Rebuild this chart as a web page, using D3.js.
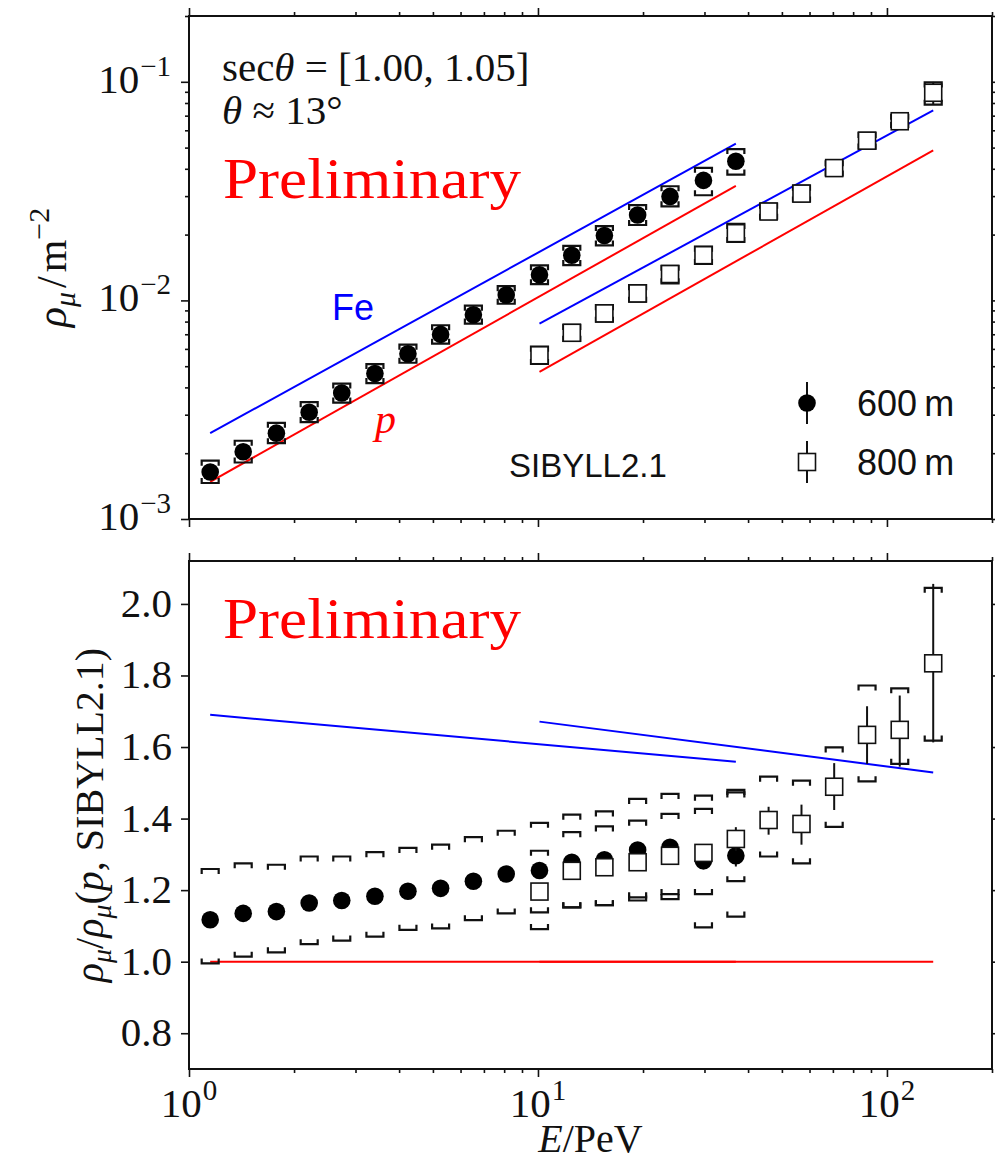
<!DOCTYPE html>
<html>
<head>
<meta charset="utf-8">
<script src="https://cdn.jsdelivr.net/npm/d3@7"></script>
<style>
  body { margin: 0; background: #fff; }
  svg { display: block; }
</style>
</head>
<body>
<div id="chart"></div>
<script>
// ---- data ----
// 600 m series
var E600 = [1.15, 1.43, 1.78, 2.21, 2.74, 3.41, 4.24, 5.26, 6.53, 8.11, 10.1, 12.5, 15.5, 19.3, 23.9, 29.8, 36.9];
var rho600 = [1.64e-3, 2.03e-3, 2.47e-3, 3.08e-3, 3.77e-3, 4.63e-3, 5.70e-3, 6.99e-3, 8.60e-3, 1.059e-2, 1.309e-2, 1.61e-2, 1.98e-2, 2.46e-2, 2.99e-2, 3.54e-2, 4.33e-2];
var ratio600 = [1.117, 1.135, 1.140, 1.164, 1.171, 1.183, 1.197, 1.205, 1.225, 1.245, 1.255, 1.278, 1.285, 1.312, 1.320, 1.282, 1.296];
var statErr600 = [0.005, 0.005, 0.006, 0.006, 0.007, 0.008, 0.009, 0.010, 0.011, 0.012, 0.013, 0.015, 0.017, 0.019, 0.021, 0.024, 0.030];
var sysHi600 = [1.259, 1.275, 1.271, 1.294, 1.294, 1.306, 1.318, 1.327, 1.348, 1.366, 1.388, 1.411, 1.420, 1.455, 1.469, 1.464, 1.473];
var sysLo600 = [0.995, 1.014, 1.026, 1.049, 1.059, 1.070, 1.089, 1.093, 1.116, 1.135, 1.138, 1.152, 1.158, 1.180, 1.189, 1.096, 1.126];

// 800 m series
var E800 = [10.1, 12.5, 15.5, 19.3, 23.9, 29.8, 36.9, 45.8, 56.9, 70.6, 87.7, 108.8, 135.7];
var rho800 = [5.61e-3, 7.11e-3, 8.72e-3, 1.076e-2, 1.32e-2, 1.61e-2, 2.03e-2, 2.55e-2, 3.08e-2, 4.03e-2, 5.38e-2, 6.60e-2, 8.91e-2];
var ratio800 = [1.196, 1.254, 1.264, 1.278, 1.296, 1.304, 1.343, 1.396, 1.385, 1.489, 1.634, 1.648, 1.834];
var statHi800 = [1.215, 1.274, 1.285, 1.300, 1.318, 1.327, 1.376, 1.433, 1.439, 1.555, 1.714, 1.744, 2.056];
var statLo800 = [1.177, 1.234, 1.243, 1.256, 1.274, 1.281, 1.310, 1.355, 1.327, 1.424, 1.553, 1.545, 1.613];
var sysHi800 = [1.310, 1.362, 1.378, 1.394, 1.413, 1.427, 1.480, 1.517, 1.506, 1.599, 1.772, 1.764, 2.045];
var sysLo800 = [1.091, 1.152, 1.158, 1.171, 1.175, 1.189, 1.225, 1.294, 1.275, 1.377, 1.504, 1.553, 1.618];

// SIBYLL2.1 expectations (end points of the straight lines)
var lineE600 = [1.15, 36.9];
var lineE800 = [10.1, 135.7];
var fe600 = [2.47e-3, 5.21e-2];
var p600 = [1.48e-3, 3.34e-2];
var fe800 = [7.83e-3, 7.41e-2];
var p800 = [4.71e-3, 4.86e-2];
var feRatio600 = [1.690, 1.559];
var feRatio800 = [1.671, 1.529];
var pRatio600 = [1.0, 1.0];
var pRatio800 = [1.0, 1.0];

// ticks
var xMajor = [1, 10, 100];
var yTopMajor = [1e-3, 1e-2, 1e-1];
var yBotTicks = [0.8, 1.0, 1.2, 1.4, 1.6, 1.8, 2.0];

// ---- layout ----
var W = 995, H = 1162;
var left = 189, right = 992;
var pTop = {top: 16, bottom: 519};
var pBot = {top: 561, bottom: 1069};
var serif = "'Liberation Serif', 'DejaVu Serif', serif";
var sans = "'Liberation Sans', Arial, sans-serif";
var BLUE = "#0000ff", RED = "#ff0000";

var svg = d3.select("#chart").append("svg")
    .attr("width", W).attr("height", H);

var x = d3.scaleLog().domain([1, 200]).range([left, right]);
var yTop = d3.scaleLog().domain([1e-3, 0.2]).range([pTop.bottom, pTop.top]);
var yBot = d3.scaleLinear().domain([0.7, 2.12]).range([pBot.bottom, pBot.top]);

var xMinor = x.ticks().filter(function(v) { return xMajor.indexOf(v) < 0; });
var yTopMinor = yTop.ticks().filter(function(v) { return yTopMajor.indexOf(v) < 0; });

// tick helper
function ticks(axisFn, scale, values, size, transform) {
    svg.append("g")
        .attr("transform", transform)
        .call(axisFn(scale).tickValues(values).tickSize(size).tickSizeOuter(0).tickFormat(""))
        .call(function(g) {
            g.select(".domain").remove();
            g.selectAll("line").attr("stroke", "#111").attr("stroke-width", 1.6);
        });
}

// x ticks, top and bottom of both panels
[pTop, pBot].forEach(function(p) {
    ticks(d3.axisBottom, x, xMajor, 8, "translate(0," + p.bottom + ")");
    ticks(d3.axisBottom, x, xMinor, 4, "translate(0," + p.bottom + ")");
    ticks(d3.axisTop, x, xMajor, 8, "translate(0," + p.top + ")");
    ticks(d3.axisTop, x, xMinor, 4, "translate(0," + p.top + ")");
});
// y ticks
ticks(d3.axisLeft, yTop, yTopMajor, 8, "translate(" + left + ",0)");
ticks(d3.axisLeft, yTop, yTopMinor, 4, "translate(" + left + ",0)");
ticks(d3.axisRight, yTop, yTopMajor, 8, "translate(" + right + ",0)");
ticks(d3.axisRight, yTop, yTopMinor, 4, "translate(" + right + ",0)");
ticks(d3.axisLeft, yBot, yBotTicks, 8, "translate(" + left + ",0)");
ticks(d3.axisRight, yBot, yBotTicks, 8, "translate(" + right + ",0)");

// frames
[pTop, pBot].forEach(function(p) {
    svg.append("rect")
        .attr("x", left).attr("y", p.top)
        .attr("width", right - left).attr("height", p.bottom - p.top)
        .attr("fill", "none").attr("stroke", "#111").attr("stroke-width", 2);
});

// tick labels
function powerLabel(xp, yp, v, anchor) {
    var t = svg.append("text")
        .attr("x", xp).attr("y", yp)
        .attr("text-anchor", anchor)
        .style("font-family", serif).style("font-size", "41px").attr("fill", "#111");
    t.append("tspan").text("10");
    var e = Math.round(Math.log10(v));
    t.append("tspan").attr("dy", -17).attr("dx", 1).style("font-size", "29px")
        .text(e < 0 ? "\u2212" + (-e) : String(e));
}
xMajor.forEach(function(v) { powerLabel(x(v), pBot.bottom + 48, v, "middle"); });
yTopMajor.forEach(function(v) { powerLabel(171, yTop(v) + 11, v, "end"); });
yBotTicks.forEach(function(v) {
    svg.append("text")
        .attr("x", 172).attr("y", yBot(v) + 13)
        .attr("text-anchor", "end")
        .style("font-family", serif).style("font-size", "41px").attr("fill", "#111")
        .text(d3.format(".1f")(v));
});

// axis titles
var xl = svg.append("text")
    .attr("x", (left + right) / 2).attr("y", 1152)
    .attr("text-anchor", "middle")
    .style("font-family", serif).style("font-size", "40px").attr("fill", "#111");
xl.append("tspan").style("font-style", "italic").text("E");
xl.append("tspan").text("/PeV");

var yl1 = svg.append("text")
    .attr("transform", "translate(66," + ((pTop.top + pTop.bottom) / 2) + ") rotate(-90)")
    .attr("text-anchor", "middle")
    .style("font-family", serif).style("font-size", "42px").attr("fill", "#111");
yl1.append("tspan").style("font-style", "italic").text("\u03c1");
yl1.append("tspan").style("font-style", "italic").style("font-size", "30px").attr("dy", 9).text("\u03bc");
yl1.append("tspan").attr("dy", -9).attr("dx", 4).text("/");
yl1.append("tspan").attr("dx", 4).text("m");
yl1.append("tspan").style("font-size", "30px").attr("dy", -17).text("\u22122");

var yl2 = svg.append("text")
    .attr("transform", "translate(103," + ((pBot.top + pBot.bottom) / 2) + ") rotate(-90)")
    .attr("text-anchor", "middle")
    .style("font-family", serif).style("font-size", "40px").attr("fill", "#111");
yl2.append("tspan").style("font-style", "italic").text("\u03c1");
yl2.append("tspan").style("font-style", "italic").style("font-size", "28px").attr("dy", 8).text("\u03bc");
yl2.append("tspan").attr("dy", -8).text("/");
yl2.append("tspan").style("font-style", "italic").text("\u03c1");
yl2.append("tspan").style("font-style", "italic").style("font-size", "28px").attr("dy", 8).text("\u03bc");
yl2.append("tspan").attr("dy", -8).text("(");
yl2.append("tspan").style("font-style", "italic").text("p");
yl2.append("tspan").text(", SIBYLL2.1)");

// ---- model lines ----
var line = function(ys) {
    return d3.line().x(function(d) { return x(d[0]); }).y(function(d) { return ys(d[1]); });
};
function drawLine(es, vs, ys, color) {
    svg.append("path")
        .datum(d3.zip(es, vs))
        .attr("fill", "none").attr("stroke", color).attr("stroke-width", 2)
        .attr("d", line(ys));
}
drawLine(lineE600, fe600, yTop, BLUE);
drawLine(lineE600, p600, yTop, RED);
drawLine(lineE800, fe800, yTop, BLUE);
drawLine(lineE800, p800, yTop, RED);
drawLine(lineE600, feRatio600, yBot, BLUE);
drawLine(lineE800, feRatio800, yBot, BLUE);
drawLine(lineE600, pRatio600, yBot, RED);
drawLine(lineE800, pRatio800, yBot, RED);

// ---- error bars and markers ----
var HW = 8.5, TK = 5;
function brackets(pts) {
    // pts: [E, lo, hi, yScale]
    var g = svg.append("g").attr("fill", "none").attr("stroke", "#111").attr("stroke-width", 2.2);
    g.selectAll("path.hi").data(pts).enter().append("path")
        .attr("d", function(d) {
            var cx = x(d[0]), yy = d[3](d[2]);
            return "M" + (cx - HW) + "," + (yy + TK) + "V" + yy + "H" + (cx + HW) + "V" + (yy + TK);
        });
    g.selectAll("path.lo").data(pts).enter().append("path")
        .attr("d", function(d) {
            var cx = x(d[0]), yy = d[3](d[1]);
            return "M" + (cx - HW) + "," + (yy - TK) + "V" + yy + "H" + (cx + HW) + "V" + (yy - TK);
        });
}
function statBars(pts) {
    svg.append("g").selectAll("line").data(pts).enter().append("line")
        .attr("x1", function(d) { return x(d[0]); })
        .attr("x2", function(d) { return x(d[0]); })
        .attr("y1", function(d) { return d[3](d[1]); })
        .attr("y2", function(d) { return d[3](d[2]); })
        .attr("stroke", "#111").attr("stroke-width", 2);
}
function circles(es, vs, ys) {
    svg.append("g").selectAll("circle").data(d3.zip(es, vs)).enter().append("circle")
        .attr("cx", function(d) { return x(d[0]); })
        .attr("cy", function(d) { return ys(d[1]); })
        .attr("r", 8.8).attr("fill", "#000");
}
function squares(es, vs, ys) {
    svg.append("g").selectAll("rect").data(d3.zip(es, vs)).enter().append("rect")
        .attr("x", function(d) { return x(d[0]) - 8.5; })
        .attr("y", function(d) { return ys(d[1]) - 8.5; })
        .attr("width", 17).attr("height", 17)
        .attr("fill", "#fff").attr("stroke", "#111").attr("stroke-width", 1.6);
}

// top panel: errors scaled from the relative errors of the ratio
var sysTop600 = E600.map(function(e, i) {
    return [e, rho600[i] * sysLo600[i] / ratio600[i], rho600[i] * sysHi600[i] / ratio600[i], yTop];
});
var sysTop800 = E800.map(function(e, i) {
    return [e, rho800[i] * sysLo800[i] / ratio800[i], rho800[i] * sysHi800[i] / ratio800[i], yTop];
});
var statTop600 = E600.map(function(e, i) {
    return [e, rho600[i] * (1 - statErr600[i] / ratio600[i]), rho600[i] * (1 + statErr600[i] / ratio600[i]), yTop];
});
var statTop800 = E800.map(function(e, i) {
    return [e, rho800[i] * statLo800[i] / ratio800[i], rho800[i] * statHi800[i] / ratio800[i], yTop];
});
brackets(sysTop800);
statBars(statTop800);
squares(E800, rho800, yTop);
brackets(sysTop600);
statBars(statTop600);
circles(E600, rho600, yTop);

// bottom panel
brackets(E600.map(function(e, i) { return [e, sysLo600[i], sysHi600[i], yBot]; }));
statBars(E600.map(function(e, i) { return [e, ratio600[i] - statErr600[i], ratio600[i] + statErr600[i], yBot]; }));
circles(E600, ratio600, yBot);
brackets(E800.map(function(e, i) { return [e, sysLo800[i], sysHi800[i], yBot]; }));
statBars(E800.map(function(e, i) { return [e, statLo800[i], statHi800[i], yBot]; }));
squares(E800, ratio800, yBot);

// ---- annotations ----
var t1 = svg.append("text").attr("x", 222).attr("y", 81)
    .style("font-family", serif).style("font-size", "41px").attr("fill", "#111");
t1.append("tspan").text("sec");
t1.append("tspan").style("font-style", "italic").text("\u03b8");
t1.append("tspan").text(" = [1.00, 1.05]");
var t2 = svg.append("text").attr("x", 222).attr("y", 124)
    .style("font-family", serif).style("font-size", "41px").attr("fill", "#111");
t2.append("tspan").style("font-style", "italic").text("\u03b8");
t2.append("tspan").text(" \u2248 13\u00b0");

[198, 638].forEach(function(yy) {
    svg.append("text").attr("x", 223).attr("y", yy)
        .attr("textLength", 298).attr("lengthAdjust", "spacingAndGlyphs")
        .style("font-family", serif).style("font-size", "56px").attr("fill", RED)
        .text("Preliminary");
});

svg.append("text").attr("x", 332).attr("y", 320)
    .style("font-family", sans).style("font-size", "36px").attr("fill", BLUE).text("Fe");
svg.append("text").attr("x", 375).attr("y", 433)
    .style("font-family", serif).style("font-style", "italic").style("font-size", "42px").attr("fill", RED).text("p");
svg.append("text").attr("x", 509).attr("y", 477)
    .style("font-family", sans).style("font-size", "33px").attr("fill", "#111").text("SIBYLL2.1");

// legend
var legend = svg.append("g");
var lx = 807;
legend.append("line").attr("x1", lx).attr("x2", lx).attr("y1", 382).attr("y2", 424)
    .attr("stroke", "#111").attr("stroke-width", 2);
legend.append("circle").attr("cx", lx).attr("cy", 403).attr("r", 8.8).attr("fill", "#000");
legend.append("line").attr("x1", lx).attr("x2", lx).attr("y1", 441).attr("y2", 483)
    .attr("stroke", "#111").attr("stroke-width", 2);
legend.append("rect").attr("x", lx - 8.5).attr("y", 462 - 8.5).attr("width", 17).attr("height", 17)
    .attr("fill", "#fff").attr("stroke", "#111").attr("stroke-width", 1.6);
legend.append("text").attr("x", 857).attr("y", 416)
    .style("font-family", sans).style("font-size", "36px").attr("fill", "#111").text("600\u2009m");
legend.append("text").attr("x", 857).attr("y", 475)
    .style("font-family", sans).style("font-size", "36px").attr("fill", "#111").text("800\u2009m");
</script>
</body>
</html>
